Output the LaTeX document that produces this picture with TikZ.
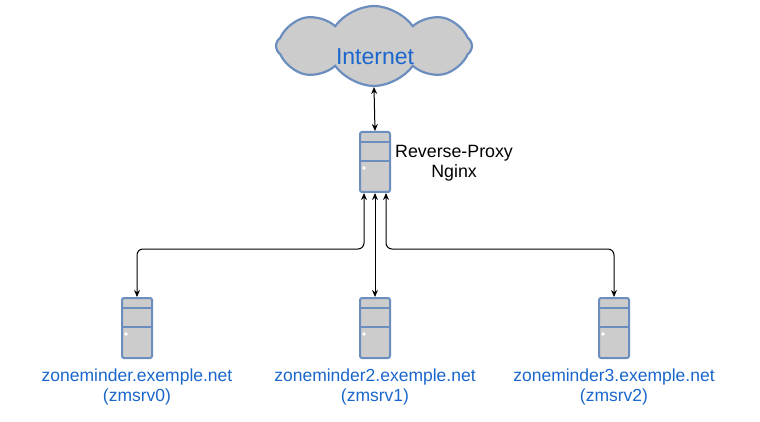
\documentclass[tikz,border=0pt]{standalone}
\usepackage{fontspec}
\setmainfont{Liberation Sans}
\usetikzlibrary{arrows.meta,shapes.symbols}
\begin{document}
\begin{tikzpicture}[x=1pt,y=-1pt,
  srv/.style={draw=srvb,fill=srvg,line width=2pt,rounded corners=2pt,minimum width=30pt,minimum height=60pt,inner sep=0pt},
  lbl/.style={text=lblue,font=\fontsize{17.5}{20}\selectfont,align=center},
  con/.style={{Stealth[length=7pt,width=6pt]}-{Stealth[length=7pt,width=6pt]},line width=1pt,rounded corners=6pt}]
\definecolor{srvb}{HTML}{6C8EBF}
\definecolor{srvg}{HTML}{CCCCCC}
\definecolor{lblue}{HTML}{1A66CC}
\useasboundingbox (0,0) rectangle (760,422);
\node[cloud,cloud puffs=8,cloud puff arc=110,aspect=2.6,draw=srvb,fill=srvg,line width=2.2pt,minimum width=196pt,minimum height=80pt,inner sep=0pt] (inet) at (374,46) {};
\node[text=lblue,font=\fontsize{23}{26}\selectfont] at (375,57) {Internet};
\newcommand\server[2]{%
 \node[srv] (#1) at (#2) {};
 \draw[srvb,line width=2pt] ([yshift=-11pt]#1.north west) -- ([yshift=-11pt]#1.north east)
   ([yshift=-30pt]#1.north west) -- ([yshift=-30pt]#1.north east);
 \fill[white] ([xshift=5pt,yshift=-37pt]#1.north west) circle (1.8pt);}
\server{proxy}{375,162}
\server{s0}{137,328}
\server{s1}{375,328}
\server{s2}{614,328}
\node[font=\fontsize{17.8}{20.5}\selectfont,align=center,anchor=west,inner sep=0pt] (pl) at (395,163) {Reverse-Proxy\\Nginx};
\node[lbl] (l0) at (137,387) {zoneminder.exemple.net\\(zmsrv0)};
\node[lbl] (l1) at (375,387) {zoneminder2.exemple.net\\(zmsrv1)};
\node[lbl] (l2) at (614,387) {zoneminder3.exemple.net\\(zmsrv2)};
\draw[con] (inet.south |- 0,87) -- (proxy.north);
\draw[con] ([xshift=-11pt]proxy.south) -- ++(0,56) -| (s0.north);
\draw[con] (proxy.south) -- (s1.north);
\draw[con] ([xshift=11pt]proxy.south) -- ++(0,56) -| (s2.north);
\end{tikzpicture}
\end{document}
